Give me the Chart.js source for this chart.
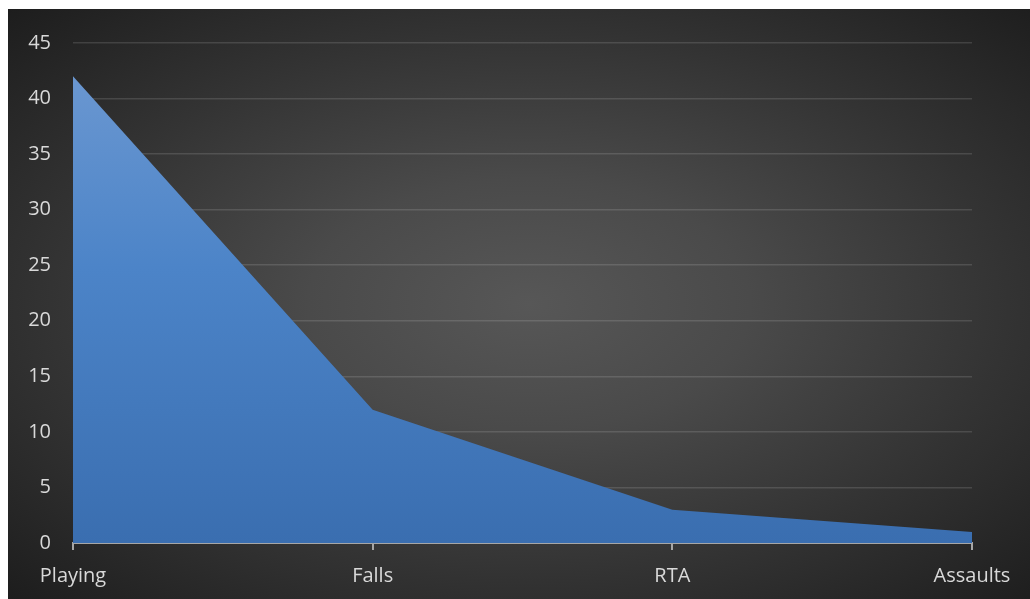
<!DOCTYPE html>
<html>
<head>
<meta charset="utf-8">
<script src="https://cdn.jsdelivr.net/npm/chart.js@4/dist/chart.umd.min.js"></script>
<style>
  html, body { margin: 0; padding: 0; background: #ffffff; }
  #wrap {
    position: absolute; left: 8px; top: 9px; width: 1022px; height: 590px;
    background: radial-gradient(ellipse farthest-corner at 51% 50%, #575757 0%, #4a4a4a 30%, #333333 65%, #1d1d1d 100%);
  }
</style>
</head>
<body>
<div id="wrap"><canvas id="c" width="1022" height="590"></canvas></div>
<script>
const categories = ["Playing", "Falls", "RTA", "Assaults"];
const counts = [42, 12, 3, 1];
const yTicks = [0, 5, 10, 15, 20, 25, 30, 35, 40, 45];

const labelFont = { family: "'Open Sans', 'Noto Sans', sans-serif", size: 20 };

const ctx = document.getElementById("c").getContext("2d");
new Chart(ctx, {
  type: "line",
  data: {
    labels: categories,
    datasets: [{
      data: counts,
      fill: "origin",
      borderWidth: 0,
      pointRadius: 0,
      tension: 0,
      backgroundColor: (context) => {
        const area = context.chart.chartArea;
        if (!area) return "#4a7fc0";
        const g = context.chart.ctx.createLinearGradient(0, area.top, 0, area.bottom);
        g.addColorStop(0, "#6f9ad2");
        g.addColorStop(0.45, "#4c84c8");
        g.addColorStop(1, "#3a6eb0");
        return g;
      },
    }],
  },
  options: {
    responsive: false,
    animation: false,
    layout: { padding: { top: 30, right: 58, left: 0, bottom: 0 } },
    plugins: { legend: { display: false }, tooltip: { enabled: false } },
    scales: {
      x: {
        offset: false,
        afterFit: (s) => { s.height = 56; },
        border: { display: true, color: "#a6a6a6", width: 2 },
        grid: { drawOnChartArea: false, drawTicks: true, tickLength: 7, color: "#a6a6a6", lineWidth: 2 },
        ticks: { color: "#d9d9d9", font: labelFont, padding: 14, maxRotation: 0 },
      },
      y: {
        min: 0,
        max: 45,
        afterFit: (s) => { s.width = 65; },
        afterBuildTicks: (s) => { s.ticks = yTicks.map(v => ({ value: v })); },
        border: { display: false },
        grid: { drawTicks: false, color: "rgba(255,255,255,0.13)", lineWidth: 1.5 },
        ticks: { color: "#d9d9d9", font: labelFont, padding: 22 },
      },
    },
  },
});
</script>
</body>
</html>
